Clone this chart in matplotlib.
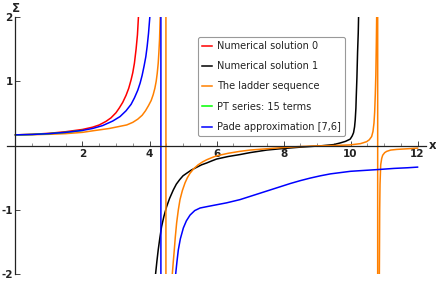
import matplotlib
matplotlib.use("Agg")
import matplotlib.pyplot as plt
from matplotlib.ticker import MultipleLocator, FixedLocator, NullLocator

plt.rcParams["axes.unicode_minus"] = False

# Numerical solution 0 (red)
x_num0 = [0.0, 0.5, 1.0, 1.5, 2.0, 2.3, 2.5, 2.7, 2.85, 3.0, 3.1, 3.2, 3.3, 3.38,
          3.45, 3.5, 3.55, 3.6, 3.64, 3.67, 3.72, 3.78]
y_num0 = [0.166, 0.175, 0.19, 0.215, 0.25, 0.285, 0.32, 0.375, 0.43, 0.51, 0.585,
          0.67, 0.78, 0.89, 1.02, 1.13, 1.28, 1.50, 1.72, 2.0, 2.6, 4.0]

# Numerical solution 1 (black)
x_num1 = [4.10, 4.18, 4.22, 4.26, 4.31, 4.36, 4.43, 4.51, 4.60, 4.71, 4.80, 4.90,
          5.0, 5.11, 5.25, 5.40, 5.55, 5.71, 5.85, 6.0, 6.35, 6.7, 7.0, 7.5, 7.9,
          8.5, 9.1, 9.5, 9.69, 9.85, 9.99, 10.05, 10.09, 10.12, 10.14, 10.16,
          10.17, 10.19, 10.21, 10.23, 10.24, 10.28]
y_num1 = [-4.0, -2.0, -1.8, -1.62, -1.43, -1.26, -1.10, -0.95, -0.82, -0.69, -0.60,
          -0.53, -0.47, -0.43, -0.38, -0.34, -0.30, -0.27, -0.24, -0.21, -0.17,
          -0.14, -0.11, -0.07, -0.05, -0.025, -0.005, 0.015, 0.04, 0.065, 0.10,
          0.15, 0.20, 0.29, 0.40, 0.58, 0.75, 1.05, 1.45, 1.75, 2.0, 4.0]

# The ladder sequence (orange)
x_ladder = [0.0, 0.5, 1.0, 1.5, 2.0, 2.32, 2.8, 3.32, 3.5, 3.65, 3.78, 3.88, 3.97,
            4.05, 4.11, 4.16, 4.20, 4.23, 4.26, 4.28, 4.30, 4.32, 4.38, 4.45, 4.49,
            4.49, 4.58, 4.68, 4.71, 4.74, 4.77, 4.81, 4.86, 4.91, 4.98, 5.06, 5.13,
            5.21, 5.32, 5.45, 5.58, 5.71, 5.85, 6.0, 6.35, 6.7, 7.0, 7.5, 8.0, 8.5,
            9.0, 9.5, 9.99, 10.3, 10.48, 10.56, 10.63, 10.67, 10.70, 10.72, 10.74,
            10.755, 10.77, 10.78, 10.80, 10.81, 10.81, 10.84, 10.86, 10.87, 10.88,
            10.90, 10.93, 10.96, 11.02, 11.08, 11.2, 11.38, 11.7, 12.0]
y_ladder = [0.166, 0.168, 0.175, 0.185, 0.205, 0.23, 0.265, 0.32, 0.36, 0.41, 0.47,
            0.54, 0.62, 0.70, 0.79, 0.89, 1.0, 1.12, 1.28, 1.45, 1.65, 2.0, 3.5,
            10.0, 40.0, -40.0, -8.0, -2.0, -1.8, -1.62, -1.42, -1.20, -1.0, -0.84,
            -0.70, -0.58, -0.50, -0.43, -0.36, -0.30, -0.255, -0.22, -0.19, -0.16,
            -0.12, -0.09, -0.07, -0.05, -0.03, -0.015, -0.005, 0.0, 0.01, 0.03,
            0.06, 0.09, 0.14, 0.22, 0.35, 0.52, 0.81, 1.10, 1.59, 2.0, 6.0, 40.0,
            -40.0, -6.0, -2.0, -1.0, -0.6, -0.3, -0.2, -0.15, -0.11, -0.09, -0.07,
            -0.06, -0.05, -0.04]

# PT series: 15 terms (green, hidden under the others)
x_pt = [0.0, 0.5, 1.0, 1.5, 2.0]
y_pt = [0.166, 0.172, 0.185, 0.205, 0.235]

# Pade approximation [7,6] (blue)
x_pade = [0.0, 0.5, 1.0, 1.5, 2.0, 2.3, 2.6, 2.9, 3.12, 3.3, 3.45, 3.55, 3.65, 3.72,
          3.78, 3.84, 3.89, 3.93, 3.97, 4.01, 4.10, 4.20, 4.30, 4.34, 4.34, 4.50,
          4.65, 4.78, 4.82, 4.86, 4.92, 5.01, 5.10, 5.21, 5.35, 5.51, 5.75, 6.0,
          6.3, 6.7, 7.0, 7.3, 7.6, 7.9, 8.2, 8.5, 8.8, 9.1, 9.4, 9.7, 10.0, 10.3,
          10.6, 10.9, 11.3, 11.7, 12.0]
y_pade = [0.166, 0.172, 0.185, 0.205, 0.235, 0.265, 0.31, 0.38, 0.45, 0.54, 0.64,
          0.74, 0.86, 0.97, 1.09, 1.24, 1.38, 1.54, 1.74, 2.0, 2.8, 4.5, 12.0,
          40.0, -40.0, -8.0, -3.2, -2.0, -1.8, -1.62, -1.45, -1.28, -1.17, -1.08,
          -1.01, -0.97, -0.945, -0.92, -0.89, -0.84, -0.79, -0.74, -0.69, -0.64,
          -0.59, -0.545, -0.505, -0.47, -0.44, -0.42, -0.40, -0.39, -0.38, -0.37,
          -0.355, -0.345, -0.335]

labels = ["Numerical solution 0", "Numerical solution 1", "The ladder sequence",
          "PT series: 15 terms", "Pade approximation [7,6]"]
x_ticks = [2, 4, 6, 8, 10, 12]
y_ticks = [-2, -1, 1, 2]


def main():
    fig = plt.figure(figsize=(4.36, 2.83), dpi=100)
    ax = fig.add_axes([0.0163, 0.0307, 0.9606, 0.910])

    lw = 1.1
    ax.plot(x_num0, y_num0, color=(1, 0, 0), lw=lw, label=labels[0])
    ax.plot(x_num1, y_num1, color=(0, 0, 0), lw=lw, label=labels[1])
    ax.plot(x_ladder, y_ladder, color=(1, 0.5, 0), lw=lw, label=labels[2])
    ax.plot(x_pt, y_pt, color=(0, 1, 0), lw=lw, label=labels[3])
    ax.plot(x_pade, y_pade, color=(0, 0, 1), lw=lw, label=labels[4])

    ax.set_xlim(-0.25, 12.25)
    ax.set_ylim(-2, 2)

    # Achsen durch den Ursprung (Mathematica-Stil)
    for s in ["top", "right"]:
        ax.spines[s].set_visible(False)
    ax.spines["left"].set_position(("data", 0))
    ax.spines["bottom"].set_position(("data", 0))
    for s in ["left", "bottom"]:
        ax.spines[s].set_color("#222222")
        ax.spines[s].set_linewidth(0.9)

    ax.xaxis.set_major_locator(FixedLocator(x_ticks))
    ax.xaxis.set_minor_locator(MultipleLocator(0.5))
    ax.yaxis.set_major_locator(FixedLocator(y_ticks))
    ax.yaxis.set_minor_locator(NullLocator())
    ax.tick_params(axis="both", which="major", direction="in", length=3.5,
                   width=0.7, color="#444444", labelsize=7.5, labelcolor="#222222")
    ax.tick_params(axis="both", which="minor", direction="in", length=2,
                   width=0.5, color="#666666")
    ax.tick_params(axis="x", pad=2.5)
    ax.tick_params(axis="y", pad=2.0)
    for t in ax.get_xticklabels() + ax.get_yticklabels():
        t.set_fontweight("bold")

    ax.text(12.44, 0, "x", ha="center", va="center", fontsize=8.5,
            fontweight="bold", color="#222222", clip_on=False)
    ax.text(0, 2.03, "\u03a3", ha="center", va="bottom", fontsize=8.5,
            fontweight="bold", color="#222222", clip_on=False)

    leg = ax.legend(loc="upper left", bbox_to_anchor=(197.7 / 436, 1 - 36.7 / 283),
                    bbox_transform=fig.transFigure, borderaxespad=0,
                    fontsize=7, handlelength=1.0, handletextpad=0.5,
                    labelspacing=1.05, borderpad=0.45, fancybox=True,
                    framealpha=1, edgecolor="#999999")
    leg.get_frame().set_linewidth(0.8)
    for t in leg.get_texts():
        t.set_color("#222222")

    fig.savefig("out.png", dpi=100)


if __name__ == "__main__":
    main()
